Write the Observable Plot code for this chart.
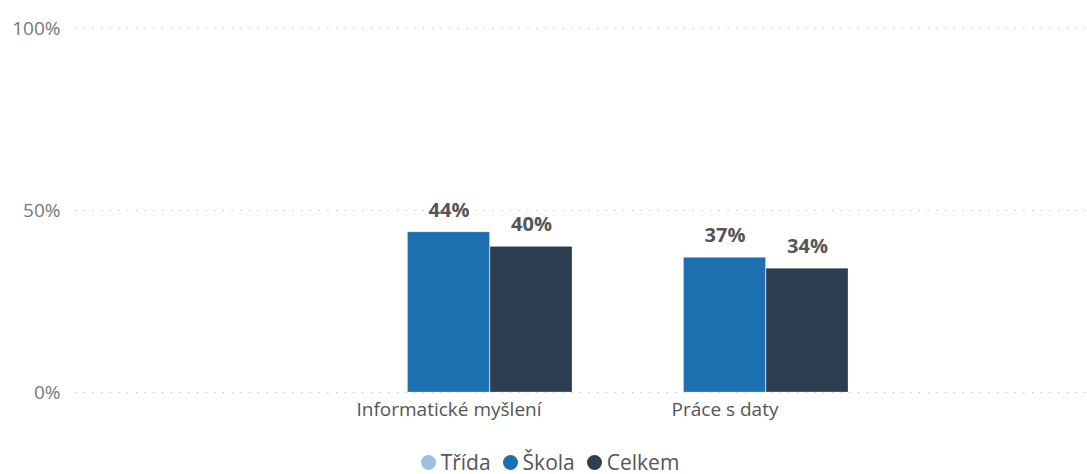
<!DOCTYPE html>
<html>
<head>
<meta charset="utf-8">
<script src="https://cdn.jsdelivr.net/npm/d3@7"></script>
<script src="https://cdn.jsdelivr.net/npm/@observablehq/plot@0.6"></script>
<style>
  html, body { margin: 0; padding: 0; background: #fff; }
  body { width: 1087px; height: 474px; overflow: hidden; font-family: "Open Sans", "Noto Sans", sans-serif; }
  #legend { display: flex; justify-content: center; align-items: center; height: 30px; margin-top: 7px; padding-left: 13px; font-size: 21px; color: #555; }
  #legend .item { display: flex; align-items: center; margin: 0 6px; }
  #legend .dot { width: 15px; height: 15px; border-radius: 50%; margin-right: 5px; }
</style>
</head>
<body>
<div id="chart"></div>
<div id="legend"></div>
<script>
const categories = ["Informatické myšlení", "Práce s daty"];
const seriesNames = ["Třída", "Škola", "Celkem"];
const tridaValues = [null, null];
const skolaValues = [0.44, 0.37];
const celkemValues = [0.40, 0.34];
const yTicks = [0, 0.5, 1];
const colors = ["#9dc0e0", "#1c70b0", "#2d3e50"];

const seriesValues = [tridaValues, skolaValues, celkemValues];
const data = [];
seriesNames.forEach((s, si) => {
  categories.forEach((c, ci) => {
    const v = seriesValues[si][ci];
    if (v != null) data.push({category: c, series: s, value: v});
  });
});

const slot = 82.5;
const slotLayout = {
  "Třída": {insetLeft: 0, insetRight: 2 * slot, dx: -slot},
  "Škola": {insetLeft: slot, insetRight: slot, dx: 0},
  "Celkem": {insetLeft: 2 * slot, insetRight: 0, dx: slot}
};

const marks = [
  Plot.ruleY(yTicks, {stroke: "#b8b8b8", strokeDasharray: "1.2,7.5", strokeWidth: 1.2})
];
seriesNames.forEach((s, si) => {
  const d = data.filter(r => r.series === s);
  const L = slotLayout[s];
  marks.push(Plot.barY(d, {
    x: "category", y: "value", fill: colors[si],
    insetLeft: L.insetLeft, insetRight: L.insetRight,
    stroke: "#ffffff", strokeOpacity: 0.25, strokeWidth: 1
  }));
  marks.push(Plot.text(d, {
    x: "category", y: "value", text: r => Math.round(r.value * 100) + "%",
    dx: L.dx, dy: -22, fill: "#555", fontWeight: "bold", fontSize: 20
  }));
});
marks.push(Plot.axisY({ticks: yTicks, tickFormat: d3.format(".0%"), tickSize: 0, tickPadding: 15, fontSize: 19, color: "#777", label: null}));
marks.push(Plot.axisX({tickSize: 0, tickPadding: 10, fontSize: 19, color: "#555", label: null}));

const chart = Plot.plot({
  width: 1087,
  height: 440,
  marginLeft: 75,
  marginRight: 0,
  marginTop: 28,
  marginBottom: 48,
  style: {fontFamily: "'Open Sans', 'Noto Sans', sans-serif", background: "#fff"},
  x: {domain: categories, paddingInner: 0.105, paddingOuter: 0.882, align: 0.511},
  y: {domain: [0, 1]},
  marks
});
document.getElementById("chart").appendChild(chart);

const legend = document.getElementById("legend");
seriesNames.forEach((s, i) => {
  const item = document.createElement("div");
  item.className = "item";
  const dot = document.createElement("span");
  dot.className = "dot";
  dot.style.background = colors[i];
  const label = document.createElement("span");
  label.textContent = s;
  item.appendChild(dot);
  item.appendChild(label);
  legend.appendChild(item);
});
</script>
</body>
</html>
